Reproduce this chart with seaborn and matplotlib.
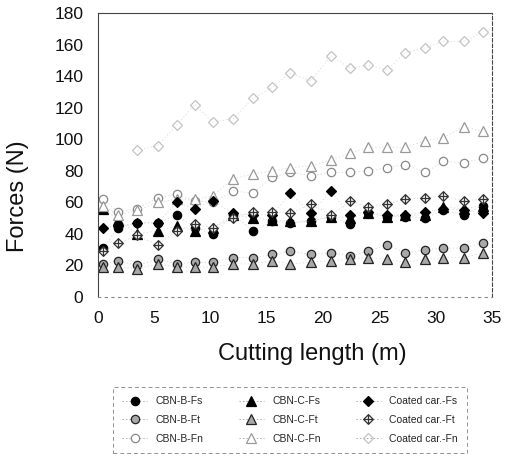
import numpy as np
import matplotlib
matplotlib.use("Agg")
import matplotlib.pyplot as plt
from matplotlib.path import Path
import seaborn as sns

# Cutting length (m) at each measurement
cutting_length = [0.45, 1.8, 3.5, 5.3, 7.0, 8.6, 10.2, 12.0, 13.8, 15.5, 17.1,
                  18.9, 20.7, 22.4, 24.0, 25.7, 27.3, 29.1, 30.7, 32.5, 34.2]

# Force components (N)
cbn_b_fs = [31, 44, 47, 47, 52, 44, 40, 52, 42, 48, 47, 48, 51, 46, 53, 51, 51, 50, 55, 52, 58]
cbn_b_ft = [21, 23, 20, 24, 21, 22, 22, 25, 25, 27, 29, 27, 28, 26, 29, 33, 28, 30, 31, 31, 34]
cbn_b_fn = [62, 54, 56, 63, 65, 61, 60, 67, 66, 76, 79, 77, 79, 79, 80, 82, 84, 79, 86, 85, 88]
cbn_c_fs = [56, 49, 40, 42, 45, 42, 44, 52, 50, 49, 48, 48, 51, 50, 53, 51, 52, 52, 57, 56, 58]
cbn_c_ft = [19, 19, 18, 21, 19, 19, 19, 21, 21, 23, 21, 22, 23, 24, 25, 24, 22, 24, 25, 25, 28]
cbn_c_fn = [58, 52, 55, 60, 62, 62, 64, 75, 78, 80, 82, 83, 87, 91, 95, 95, 95, 99, 101, 108, 105]
coat_fs = [44, 45, 47, 47, 60, 56, 61, 53, 52, 52, 66, 53, 67, 52, 54, 52, 52, 54, 56, 55, 53]
coat_ft = [29, 34, 39, 33, 42, 46, 44, 50, 54, 54, 53, 59, 52, 61, 57, 59, 62, 63, 64, 61, 62]
coat_fn = [np.nan, np.nan, 93, 96, 109, 122, 111, 113, 126, 133, 142, 137, 153, 145,
           147, 144, 155, 158, 162, 162, 168]

series_names = ["CBN-B-Fs", "CBN-B-Ft", "CBN-B-Fn",
                "CBN-C-Fs", "CBN-C-Ft", "CBN-C-Fn",
                "Coated car.-Fs", "Coated car.-Ft", "Coated car.-Fn"]
series_values = [cbn_b_fs, cbn_b_ft, cbn_b_fn,
                 cbn_c_fs, cbn_c_ft, cbn_c_fn,
                 coat_fs, coat_ft, coat_fn]

# Diamond with a cross inside
diamond_plus = Path(
    [(0, 1), (1, 0), (0, -1), (-1, 0), (0, 1), (0, 0.9), (0, -0.9), (-0.9, 0), (0.9, 0)],
    [Path.MOVETO, Path.LINETO, Path.LINETO, Path.LINETO, Path.CLOSEPOLY,
     Path.MOVETO, Path.LINETO, Path.MOVETO, Path.LINETO])

# marker, size, face, edge
styles = [
    ("o", 6.0, "black", "black"),
    ("o", 6.0, "#a8a8a8", "#222222"),
    ("o", 6.0, "white", "#888888"),
    ("^", 6.5, "black", "black"),
    ("^", 6.5, "#a8a8a8", "#222222"),
    ("^", 6.5, "white", "#999999"),
    ("D", 5.5, "black", "black"),
    (diamond_plus, 7.0, "white", "#333333"),
    ("D", 5.0, "none", "#c4c4c4"),
]

sns.set_theme(style="white")
plt.rcParams["font.family"] = ["Liberation Sans", "DejaVu Sans"]

fig = plt.figure(figsize=(5.05, 4.67), dpi=100)
ax = fig.add_axes([0.194, 0.364, 0.780, 0.608])

for name, vals, (mk, ms, fc, ec) in zip(series_names, series_values, styles):
    sns.lineplot(x=cutting_length, y=vals, ax=ax, label=name,
                 estimator=None, errorbar=None, sort=False,
                 color="#d4d4d4", linewidth=0.5, linestyle=(0, (2, 3)),
                 marker=mk, markersize=ms, markerfacecolor=fc,
                 markeredgecolor=ec, markeredgewidth=0.9)

ax.set_xlim(0, 35)
ax.set_ylim(0, 180)
ax.set_xticks(range(0, 36, 5))
ax.set_yticks(range(0, 181, 20))
ax.tick_params(axis="y", direction="inout", length=5, width=0.8, color="#333333",
               labelsize=12.5, pad=8)
ax.tick_params(axis="x", length=0, labelsize=12.5, pad=10)
for lab in ax.get_xticklabels() + ax.get_yticklabels():
    lab.set_color("#111111")

for side, sp in ax.spines.items():
    sp.set_color("#444444")
    sp.set_linewidth(0.8)
ax.spines["right"].set_linestyle((0, (3, 2)))
ax.spines["bottom"].set_linestyle((0, (2, 4)))
ax.spines["bottom"].set_color("#888888")

ax.set_xlabel("Cutting length (m)", fontsize=17, color="#111111")
ax.set_ylabel("Forces (N)", fontsize=17, color="#111111")
ax.xaxis.set_label_coords(0.543, -0.162)
ax.yaxis.set_label_coords(-0.175, 0.356)

handles, labels = ax.get_legend_handles_labels()
if ax.get_legend():
    ax.get_legend().remove()
leg = fig.legend(handles, labels, ncol=3, loc="center",
                 bbox_to_anchor=(290 / 505, 1 - 420 / 467),
                 fontsize=7.5, frameon=True, fancybox=False,
                 handlelength=2.4, columnspacing=3.4, labelspacing=0.85,
                 borderpad=0.9, handletextpad=0.8)
for h in leg.legend_handles:
    h.set_color("#888888")
frame = leg.get_frame()
frame.set_edgecolor("#777777")
frame.set_linestyle((0, (4, 3)))
frame.set_linewidth(0.7)

fig.savefig("out.png", dpi=100)
